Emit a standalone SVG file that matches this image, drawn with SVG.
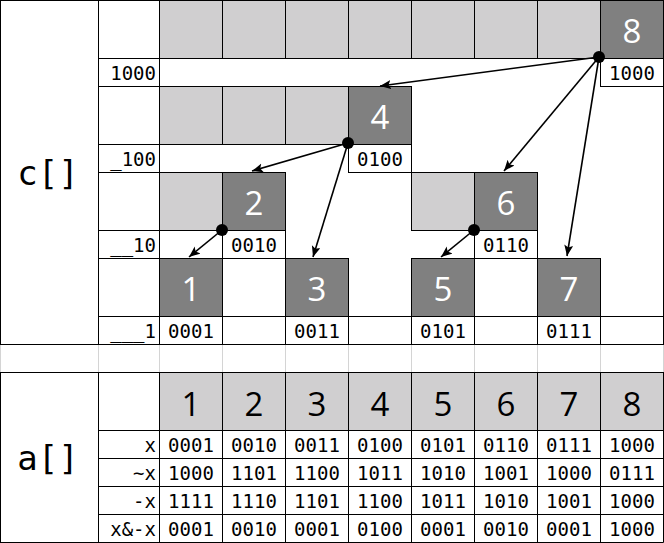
<svg xmlns="http://www.w3.org/2000/svg" width="664" height="543" viewBox="0 0 664 543">
<defs>
<style>
.grid{stroke:#d4d4d4;stroke-width:1;fill:none}
.box{fill:#fff;stroke:#000;stroke-width:1}
.lt{fill:#d0cfd0;stroke:#000;stroke-width:1}
.dk{fill:#808080;stroke:#000;stroke-width:1}
.mono{font-family:"DejaVu Sans Mono","Liberation Mono",monospace;font-size:19px;fill:#000}
.c{text-anchor:middle}
.r{text-anchor:end}
.big{font-family:"Open Sans","Liberation Sans",sans-serif;font-size:33px;text-anchor:middle}
.w{fill:#fff}
.k{fill:#000}
.title{font-family:"DejaVu Sans Mono",monospace;font-size:34px;text-anchor:middle;fill:#000}
.arrow{stroke:#000;stroke-width:1.6;fill:none;marker-end:url(#ah)}
.dot{fill:#000}
</style>
<marker id="ah" markerUnits="userSpaceOnUse" markerWidth="12" markerHeight="10" refX="11" refY="4.5" orient="auto"><path d="M0,0 L11,4.5 L0,9 L2.5,4.5 z" fill="#000"/></marker>
</defs>
<rect x="0" y="0" width="664" height="543" fill="#fff"/>
<g id="gridlines" class="grid">
<path d="M159.5,0V372.5M222.5,0V372.5M285.5,0V372.5M348.5,0V372.5M411.5,0V372.5M474.5,0V372.5M537.5,0V372.5M600.5,0V372.5M0.5,344.5V372.5M98.5,344.5V372.5M663.5,344.5V372.5"/>
<path d="M98.5,58.5H663.5M98.5,86.5H663.5M98.5,144.5H663.5M98.5,172.5H663.5M98.5,230.5H663.5M98.5,258.5H663.5M98.5,316.5H663.5"/>
</g>
<g id="c-frame">
<rect class="box" x="0.5" y="0.5" width="663" height="344" fill="none"/>
<rect class="box" x="0.5" y="0.5" width="98" height="344"/>
<text class="title" x="48" y="185">c[]</text>
<rect class="box" x="98.5" y="0.5" width="61" height="58"/>
<rect class="box" x="98.5" y="58.5" width="61" height="28"/>
<rect class="box" x="98.5" y="86.5" width="61" height="58"/>
<rect class="box" x="98.5" y="144.5" width="61" height="28"/>
<rect class="box" x="98.5" y="172.5" width="61" height="58"/>
<rect class="box" x="98.5" y="230.5" width="61" height="28"/>
<rect class="box" x="98.5" y="258.5" width="61" height="58"/>
<rect class="box" x="98.5" y="316.5" width="61" height="28"/>
<text class="mono r" x="156" y="80">1000</text>
<text class="mono r" x="156" y="166">_100</text>
<text class="mono r" x="156" y="252">__10</text>
<text class="mono r" x="156" y="338">___1</text>
<rect class="lt" x="159.5" y="0.5" width="63" height="58"/>
<rect class="lt" x="222.5" y="0.5" width="63" height="58"/>
<rect class="lt" x="285.5" y="0.5" width="63" height="58"/>
<rect class="lt" x="348.5" y="0.5" width="63" height="58"/>
<rect class="lt" x="411.5" y="0.5" width="63" height="58"/>
<rect class="lt" x="474.5" y="0.5" width="63" height="58"/>
<rect class="lt" x="537.5" y="0.5" width="63" height="58"/>
<rect class="lt" x="159.5" y="86.5" width="63" height="58"/>
<rect class="lt" x="222.5" y="86.5" width="63" height="58"/>
<rect class="lt" x="285.5" y="86.5" width="63" height="58"/>
<rect class="lt" x="159.5" y="172.5" width="63" height="58"/>
<rect class="lt" x="411.5" y="172.5" width="63" height="58"/>
<rect class="box" x="159.5" y="316.5" width="63" height="28"/>
<rect class="box" x="222.5" y="316.5" width="63" height="28"/>
<rect class="box" x="285.5" y="316.5" width="63" height="28"/>
<rect class="box" x="348.5" y="316.5" width="63" height="28"/>
<rect class="box" x="411.5" y="316.5" width="63" height="28"/>
<rect class="box" x="474.5" y="316.5" width="63" height="28"/>
<rect class="box" x="537.5" y="316.5" width="63" height="28"/>
<rect class="box" x="600.5" y="316.5" width="63" height="28"/>
</g>
<g id="node-8"><rect class="dk" x="600.5" y="0.5" width="63" height="58"/><text class="big w" x="632" y="43">8</text><rect class="box" x="600.5" y="58.5" width="63" height="28"/><text class="mono c" x="632" y="80">1000</text></g>
<g id="node-4"><rect class="dk" x="348.5" y="86.5" width="63" height="58"/><text class="big w" x="380" y="129">4</text><rect class="box" x="348.5" y="144.5" width="63" height="28"/><text class="mono c" x="380" y="166">0100</text></g>
<g id="node-2"><rect class="dk" x="222.5" y="172.5" width="63" height="58"/><text class="big w" x="254" y="215">2</text><rect class="box" x="222.5" y="230.5" width="63" height="28"/><text class="mono c" x="254" y="252">0010</text></g>
<g id="node-6"><rect class="dk" x="474.5" y="172.5" width="63" height="58"/><text class="big w" x="506" y="215">6</text><rect class="box" x="474.5" y="230.5" width="63" height="28"/><text class="mono c" x="506" y="252">0110</text></g>
<g id="node-1"><rect class="dk" x="159.5" y="258.5" width="63" height="58"/><text class="big w" x="191" y="301">1</text><text class="mono c" x="191" y="338">0001</text></g>
<g id="node-3"><rect class="dk" x="285.5" y="258.5" width="63" height="58"/><text class="big w" x="317" y="301">3</text><text class="mono c" x="317" y="338">0011</text></g>
<g id="node-5"><rect class="dk" x="411.5" y="258.5" width="63" height="58"/><text class="big w" x="443" y="301">5</text><text class="mono c" x="443" y="338">0101</text></g>
<g id="node-7"><rect class="dk" x="537.5" y="258.5" width="63" height="58"/><text class="big w" x="569" y="301">7</text><text class="mono c" x="569" y="338">0111</text></g>
<g id="connectors">
<line class="arrow" x1="599" y1="57" x2="380" y2="86"/>
<line class="arrow" x1="599" y1="57" x2="504" y2="171"/>
<line class="arrow" x1="599" y1="57" x2="567" y2="256"/>
<line class="arrow" x1="348" y1="143" x2="252" y2="171"/>
<line class="arrow" x1="348" y1="143" x2="313" y2="257"/>
<line class="arrow" x1="222" y1="230" x2="189" y2="257"/>
<line class="arrow" x1="474" y1="230" x2="441" y2="257"/>
<circle class="dot" cx="599" cy="57" r="6"/>
<circle class="dot" cx="348" cy="143" r="6"/>
<circle class="dot" cx="222" cy="230" r="6"/>
<circle class="dot" cx="474" cy="230" r="6"/>
</g>
<g id="a-table">
<rect class="box" x="0.5" y="372.5" width="98" height="170"/>
<text class="title" x="48" y="470">a[]</text>
<rect class="box" x="98.5" y="372.5" width="61" height="58"/>
<rect class="box" x="98.5" y="430.5" width="61" height="28"/>
<rect class="box" x="98.5" y="458.5" width="61" height="28"/>
<rect class="box" x="98.5" y="486.5" width="61" height="28"/>
<rect class="box" x="98.5" y="514.5" width="61" height="28"/>
<text class="mono r" x="156" y="452">x</text>
<text class="mono r" x="156" y="480">~x</text>
<text class="mono r" x="156" y="508">-x</text>
<text class="mono r" x="156" y="536">x&amp;-x</text>
<g id="a-header">
<rect class="lt" x="159.5" y="372.5" width="63" height="58"/><text class="big k" x="191" y="416">1</text>
<rect class="lt" x="222.5" y="372.5" width="63" height="58"/><text class="big k" x="254" y="416">2</text>
<rect class="lt" x="285.5" y="372.5" width="63" height="58"/><text class="big k" x="317" y="416">3</text>
<rect class="lt" x="348.5" y="372.5" width="63" height="58"/><text class="big k" x="380" y="416">4</text>
<rect class="lt" x="411.5" y="372.5" width="63" height="58"/><text class="big k" x="443" y="416">5</text>
<rect class="lt" x="474.5" y="372.5" width="63" height="58"/><text class="big k" x="506" y="416">6</text>
<rect class="lt" x="537.5" y="372.5" width="63" height="58"/><text class="big k" x="569" y="416">7</text>
<rect class="lt" x="600.5" y="372.5" width="63" height="58"/><text class="big k" x="632" y="416">8</text>
</g>
<g id="a-cells">
<path d="M159.5,430.5V542.5M222.5,430.5V542.5M285.5,430.5V542.5M348.5,430.5V542.5M411.5,430.5V542.5M474.5,430.5V542.5M537.5,430.5V542.5M600.5,430.5V542.5M663.5,430.5V542.5M159.5,458.5H663.5M159.5,486.5H663.5M159.5,514.5H663.5M159.5,542.5H663.5" stroke="#000" stroke-width="1" fill="none"/>
<text class="mono c" x="191" y="452">0001</text><text class="mono c" x="254" y="452">0010</text><text class="mono c" x="317" y="452">0011</text><text class="mono c" x="380" y="452">0100</text><text class="mono c" x="443" y="452">0101</text><text class="mono c" x="506" y="452">0110</text><text class="mono c" x="569" y="452">0111</text><text class="mono c" x="632" y="452">1000</text>
<text class="mono c" x="191" y="480">1000</text><text class="mono c" x="254" y="480">1101</text><text class="mono c" x="317" y="480">1100</text><text class="mono c" x="380" y="480">1011</text><text class="mono c" x="443" y="480">1010</text><text class="mono c" x="506" y="480">1001</text><text class="mono c" x="569" y="480">1000</text><text class="mono c" x="632" y="480">0111</text>
<text class="mono c" x="191" y="508">1111</text><text class="mono c" x="254" y="508">1110</text><text class="mono c" x="317" y="508">1101</text><text class="mono c" x="380" y="508">1100</text><text class="mono c" x="443" y="508">1011</text><text class="mono c" x="506" y="508">1010</text><text class="mono c" x="569" y="508">1001</text><text class="mono c" x="632" y="508">1000</text>
<text class="mono c" x="191" y="536">0001</text><text class="mono c" x="254" y="536">0010</text><text class="mono c" x="317" y="536">0001</text><text class="mono c" x="380" y="536">0100</text><text class="mono c" x="443" y="536">0001</text><text class="mono c" x="506" y="536">0010</text><text class="mono c" x="569" y="536">0001</text><text class="mono c" x="632" y="536">1000</text>
</g>
</g>
</svg>
